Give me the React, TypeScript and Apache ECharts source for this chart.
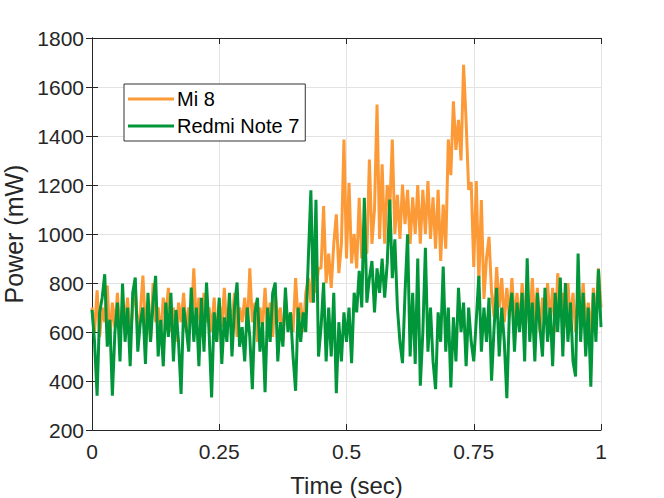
import React, { useEffect, useRef } from "react";
import * as echarts from "echarts";

const seriesNames = ["Mi 8", "Redmi Note 7"];
const xTicks = [0, 0.25, 0.5, 0.75, 1];
const yTicks = [200, 400, 600, 800, 1000, 1200, 1400, 1600, 1800];

// Power samples (mW), evenly spaced in time from 0 to 1 s
const mi8 = [
  700, 600, 770, 580, 700, 640, 790, 560, 720, 620,
  760, 580, 700, 640, 740, 560, 700, 780, 600, 680,
  830, 620, 720, 560, 800, 640, 700, 580, 740, 660,
  780, 600, 700, 560, 720, 640, 760, 600, 700, 640,
  860, 620, 740, 580, 760, 640, 700, 600, 740, 560,
  720, 620, 780, 600, 700, 640, 760, 580, 700, 640,
  740, 600, 860, 640, 720, 560, 700, 620, 780, 600,
  720, 580, 760, 640, 700, 560, 740, 620, 680, 600,
  820, 640, 720, 600, 760, 820, 720, 900, 760, 860,
  860, 1114, 800, 920, 780, 960, 1080, 840, 960, 1386,
  900, 1209, 880, 1000, 860, 1148, 900, 1040, 920, 1304,
  960, 1100, 1528, 980, 1284, 960, 1200, 1100, 1386, 1000,
  1160, 980, 1202, 1040, 1180, 960, 1150, 1000, 1200, 960,
  1180, 1000, 1216, 980, 1150, 940, 1180, 890, 1120, 940,
  1386, 1240, 1542, 1343, 1466, 1300, 1691, 1460, 1180, 1212,
  865, 1216, 800, 1139, 735, 900, 988, 760, 661, 865,
  700, 820, 640, 780, 660, 820, 640, 760, 620, 800,
  660, 760, 620, 820, 640, 780, 600, 740, 660, 800,
  640, 780, 600, 840, 660, 760, 620, 800, 640, 760,
  600, 740, 660, 800, 620, 720, 580, 780, 640, 860, 700,
];

const redmi = [
  690, 560, 340, 680, 740, 836, 540, 650, 340, 600,
  720, 480, 798, 560, 700, 460, 760, 822, 520, 640,
  700, 470, 760, 560, 720, 829, 500, 650, 460, 720,
  580, 760, 480, 690, 560, 347, 700, 620, 520, 781,
  560, 700, 460, 740, 520, 802, 600, 333, 680, 560,
  740, 470, 660, 560, 760, 500, 700, 802, 540, 620,
  480, 700, 580, 367, 680, 740, 520, 640, 354, 700,
  560, 760, 802, 480, 640, 540, 781, 600, 680, 500,
  360, 700, 560, 680, 600, 900, 1178, 720, 1140, 500,
  620, 802, 480, 700, 500, 760, 350, 640, 480, 680,
  560, 700, 473, 760, 680, 850, 700, 1148, 720, 820,
  890, 680, 860, 760, 900, 740, 880, 1141, 820, 978,
  700, 560, 473, 760, 999, 500, 760, 470, 900, 381,
  600, 944, 520, 700, 480, 367, 680, 560, 867, 520,
  700, 374, 660, 480, 780, 600, 720, 460, 700, 560,
  480, 650, 829, 520, 700, 560, 740, 401, 620, 780,
  500, 700, 560, 330, 680, 760, 520, 720, 600, 760,
  480, 901, 560, 720, 480, 760, 620, 500, 780, 560,
  700, 460, 760, 600, 822, 500, 800, 560, 720, 480,
  418, 920, 560, 760, 500, 700, 377, 760, 560, 856, 620,
];

const colors = ["#fc9a38", "#02963a"];

function toPoints(values: number[]) {
  const n = values.length - 1;
  return values.map((v, i) => [i / n, v]);
}

export default function App() {
  const ref = useRef<HTMLDivElement>(null);

  useEffect(() => {
    if (!ref.current) return;
    const chart = echarts.init(ref.current, undefined, { renderer: "svg" });
    const font = "'Liberation Sans', Arial, Helvetica, sans-serif";
    const axisColor = "#262626";
    chart.setOption({
      animation: false,
      backgroundColor: "#ffffff",
      textStyle: { fontFamily: font },
      grid: { left: 92, right: 63, top: 38, bottom: 68, containLabel: false, outerBoundsMode: "none" },
      legend: {
        orient: "vertical",
        left: 124,
        top: 84,
        data: seriesNames.map((name) => ({ name, icon: "rect" })),
        itemWidth: 46,
        itemHeight: 3,
        itemGap: 7,
        padding: [5, 6, 5, 4],
        backgroundColor: "#ffffff",
        borderColor: "#333333",
        borderWidth: 1,
        textStyle: { fontSize: 20, color: "#000000", fontFamily: font, padding: [0, 0, 0, -2] },
      },
      xAxis: [
        {
          type: "value",
          min: 0,
          max: 1,
          interval: 0.25,
          name: "Time (sec)",
          nameLocation: "middle",
          nameGap: 43,
          nameTextStyle: { fontSize: 24, color: axisColor, fontFamily: font },
          axisLine: { show: true, lineStyle: { color: axisColor, width: 1 } },
          axisTick: { show: true, inside: true, length: 6, lineStyle: { color: axisColor } },
          axisLabel: {
            fontSize: 21,
            color: axisColor,
            margin: 11,
            fontFamily: font,
            formatter: (v: number) => (xTicks.includes(v) ? String(v) : ""),
          },
          splitLine: { show: true, lineStyle: { color: "#e3e3e3", width: 1 } },
        },
        {
          type: "value",
          position: "top",
          min: 0,
          max: 1,
          interval: 0.25,
          axisLine: { show: true, lineStyle: { color: axisColor, width: 1 } },
          axisTick: { show: true, inside: true, length: 6, lineStyle: { color: axisColor } },
          axisLabel: { show: false },
          splitLine: { show: false },
        },
      ],
      yAxis: [
        {
          type: "value",
          min: 200,
          max: 1800,
          interval: 200,
          name: "Power (mW)",
          nameLocation: "middle",
          nameGap: 64,
          nameTextStyle: { fontSize: 25, color: axisColor, fontFamily: font },
          axisLine: { show: true, lineStyle: { color: axisColor, width: 1 } },
          axisTick: { show: true, inside: true, length: 6, lineStyle: { color: axisColor } },
          axisLabel: {
            fontSize: 21,
            color: axisColor,
            margin: 8,
            fontFamily: font,
            formatter: (v: number) => (yTicks.includes(v) ? String(v) : ""),
          },
          splitLine: { show: true, lineStyle: { color: "#e3e3e3", width: 1 } },
        },
        {
          type: "value",
          position: "right",
          min: 200,
          max: 1800,
          interval: 200,
          axisLine: { show: true, lineStyle: { color: axisColor, width: 1 } },
          axisTick: { show: true, inside: true, length: 6, lineStyle: { color: axisColor } },
          axisLabel: { show: false },
          splitLine: { show: false },
        },
      ],
      series: [
        {
          name: seriesNames[0],
          type: "line",
          data: toPoints(mi8),
          showSymbol: false,
          symbol: "none",
          lineStyle: { color: colors[0], width: 3 },
          itemStyle: { color: colors[0] },
          z: 2,
        },
        {
          name: seriesNames[1],
          type: "line",
          data: toPoints(redmi),
          showSymbol: false,
          symbol: "none",
          lineStyle: { color: colors[1], width: 3 },
          itemStyle: { color: colors[1] },
          z: 3,
        },
      ],
    });
    return () => chart.dispose();
  }, []);

  return <div ref={ref} style={{ width: 664, height: 498, position: "absolute", left: 0, top: 0 }} />;
}
